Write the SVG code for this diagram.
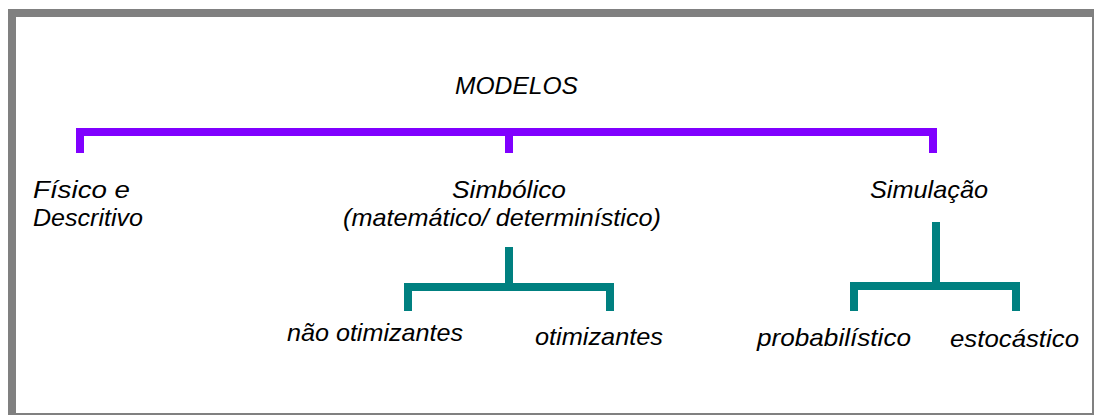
<svg xmlns="http://www.w3.org/2000/svg" width="1094" height="416" viewBox="0 0 1094 416">
<style>
.t{font-family:"Liberation Sans",Arial,sans-serif;font-style:italic;font-size:24px;fill:#000}
.p{stroke:#8000FF;stroke-width:8;fill:none;stroke-linejoin:miter}
.g{stroke:#008080;stroke-width:8;fill:none;stroke-linejoin:miter}
</style>
<rect width="1094" height="416" fill="#fff"/>
<g id="frame">
<rect x="8" y="9" width="1086" height="8" fill="#808080"/>
<rect x="8" y="9" width="8" height="406" fill="#808080"/>
<rect x="1092" y="9" width="2" height="406" fill="#808080"/>
<rect x="8" y="413" width="1086" height="2" fill="#808080"/>
</g>
<g id="connectors">
<path class="p" d="M80 153 V132 H933 V153 M509 132 V153"/>
<path class="g" d="M509 247 V287 M408 311 V287 H610 V311"/>
<path class="g" d="M936 222 V286 M854 311 V286 H1016 V311"/>
</g>
<g id="modelos"><text class="t" x="455" y="94" textLength="123" lengthAdjust="spacingAndGlyphs">MODELOS</text></g>
<g id="fisico">
<text class="t" x="33" y="198" textLength="97" lengthAdjust="spacingAndGlyphs">Físico e</text>
<text class="t" x="33" y="226" textLength="110" lengthAdjust="spacingAndGlyphs">Descritivo</text>
</g>
<g id="simbolico">
<text class="t" x="452" y="198" textLength="114" lengthAdjust="spacingAndGlyphs">Simbólico</text>
<text class="t" x="343" y="226" textLength="318" lengthAdjust="spacingAndGlyphs">(matemático/ determinístico)</text>
</g>
<g id="simulacao"><text class="t" x="870" y="198" textLength="118" lengthAdjust="spacingAndGlyphs">Simulação</text></g>
<g id="nao-otimizantes"><text class="t" x="287" y="341" textLength="176" lengthAdjust="spacingAndGlyphs">não otimizantes</text></g>
<g id="otimizantes"><text class="t" x="535" y="345" textLength="128" lengthAdjust="spacingAndGlyphs">otimizantes</text></g>
<g id="probabilistico"><text class="t" x="757" y="346" textLength="154" lengthAdjust="spacingAndGlyphs">probabilístico</text></g>
<g id="estocastico"><text class="t" x="950" y="347" textLength="129" lengthAdjust="spacingAndGlyphs">estocástico</text></g>
</svg>
